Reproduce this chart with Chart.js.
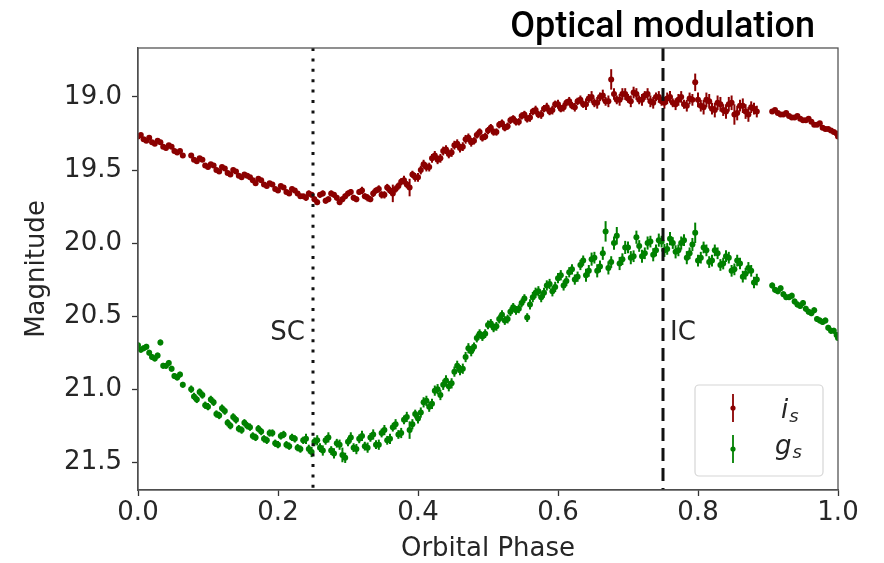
<!DOCTYPE html>
<html>
<head>
<meta charset="utf-8">
<script src="https://cdn.jsdelivr.net/npm/chart.js@4"></script>
<style>
  html, body { margin: 0; padding: 0; background: #fff; }
  canvas { display: block; }
</style>
</head>
<body>
<canvas id="lc" width="884" height="563"></canvas>
<script>
// orbital phase of each exposure, first night (shared by both bands)
const phase = [
  0.000,0.008,0.016,0.024,0.032,0.040,0.048,0.056,0.064,
  0.076,0.084,0.092,0.100,0.108,0.116,0.124,0.132,0.140,0.148,0.156,
  0.164,0.172,0.180,0.188,0.196,0.204,0.212,0.220,0.228,0.236,
  0.244,0.252,0.260,0.268,0.276,0.284,0.292,0.300,0.308,0.316,
  0.324,0.332,0.340,0.348,0.356,0.364,0.372,0.380,0.388,0.396,
  0.404,0.412,0.420,0.428,0.436,0.444,0.452,0.460,0.468,0.476,
  0.484,0.492,0.500,0.508,0.516,0.524,0.532,0.540,0.548,0.556,
  0.564,0.572,0.580,0.588,0.596,0.604,0.612,0.620,0.628,0.636,
  0.644,0.652,0.660,0.668,0.676,0.684,0.692,0.700,0.708,0.716,
  0.724,0.732,0.740,0.748,0.756,0.764,0.772,0.780,0.788,0.796,
  0.804,0.812,0.820,0.828,0.836,0.844,0.852,0.860,0.868,0.876,
  0.884,
  0.906,0.914,0.922,0.930,0.938,0.946,0.954,0.962,0.970,0.978,0.986,0.994,1.000
];
// second night
const phase2 = [
  0.004,0.012,0.020,0.028,0.036,0.044,0.052,0.060,
  0.080,0.088,0.096,0.104,0.112,0.120,0.128,0.136,0.144,0.152,
  0.160,0.168,0.176,0.184,0.192,0.200,0.208,0.216,0.224,0.232,
  0.240,0.248,0.256,0.264,0.272,0.280,0.288,0.296,0.304,0.312,
  0.320,0.328,0.336,0.344,0.352,0.360,0.368,0.376,0.384,0.392,
  0.400,0.408,0.416,0.424,0.432,0.440,0.448,0.456,0.464,0.472,
  0.480,0.488,0.496,0.504,0.512,0.520,0.528,0.536,0.544,0.552,
  0.560,0.568,0.576,0.584,0.592,0.600,0.608,0.616,0.624,0.632,
  0.640,0.648,0.656,0.664,0.672,0.680,0.688,0.696,0.704,0.712,
  0.720,0.728,0.736,0.744,0.752,0.760,0.768,0.776,0.784,0.792,
  0.800,0.808,0.816,0.824,0.832,0.840,0.848,0.856,0.864,0.872,
  0.880,
  0.910,0.918,0.926,0.934,0.942,0.950,0.958,0.966,0.974,0.982,0.990,0.998
];

// i_s band
const magI = [
  19.27,19.29,19.28,19.32,19.31,19.35,19.34,19.38,19.40,
  19.40,19.44,19.43,19.48,19.47,19.51,19.49,19.53,19.51,19.55,19.54,
  19.57,19.56,19.60,19.59,19.63,19.61,19.65,19.63,19.66,19.68,
  19.66,19.70,19.67,19.71,19.66,19.69,19.70,19.66,19.69,19.65,
  19.68,19.70,19.64,19.67,19.62,19.66,19.61,19.57,19.62,19.55,
  19.50,19.48,19.42,19.43,19.37,19.39,19.33,19.35,19.29,19.31,
  19.26,19.28,19.23,19.24,19.19,19.21,19.16,19.17,19.13,19.15,
  19.10,19.12,19.08,19.10,19.05,19.08,19.04,19.06,19.03,19.05,
  19.01,19.04,19.00,19.03,18.88,19.02,18.98,19.01,18.97,19.02,
  18.99,19.03,19.00,19.03,19.01,19.04,19.02,19.05,19.01,18.90,
  19.06,19.02,19.08,19.04,19.09,19.05,19.12,19.06,19.10,19.07,
  19.10,
  19.10,19.11,19.12,19.13,19.14,19.15,19.16,19.17,19.19,19.21,19.22,19.24,19.27
];
const errI = [
  0.015,0.015,0.015,0.015,0.015,0.015,0.015,0.015,0.015,
  0.015,0.015,0.015,0.015,0.015,0.015,0.015,0.015,0.015,0.015,0.015,
  0.015,0.015,0.015,0.015,0.015,0.015,0.015,0.015,0.015,0.015,
  0.02,0.02,0.02,0.02,0.02,0.02,0.02,0.02,0.02,0.02,
  0.02,0.02,0.02,0.025,0.025,0.06,0.025,0.03,0.06,0.03,
  0.03,0.03,0.03,0.03,0.03,0.03,0.03,0.03,0.03,0.03,
  0.025,0.025,0.025,0.025,0.025,0.025,0.025,0.025,0.025,0.025,
  0.025,0.025,0.025,0.025,0.025,0.025,0.025,0.025,0.025,0.025,
  0.03,0.03,0.03,0.03,0.07,0.03,0.04,0.03,0.04,0.03,
  0.03,0.04,0.03,0.03,0.04,0.03,0.04,0.03,0.04,0.06,
  0.04,0.05,0.04,0.05,0.04,0.05,0.07,0.04,0.05,0.04,
  0.04,
  0.015,0.015,0.015,0.015,0.015,0.015,0.015,0.015,0.015,0.015,0.015,0.015,0.015
];
const magI2 = [
  19.26,19.30,19.31,19.30,19.34,19.33,19.37,19.37,
  19.43,19.42,19.47,19.46,19.50,19.48,19.52,19.50,19.54,19.53,
  19.55,19.59,19.57,19.61,19.60,19.64,19.62,19.66,19.64,19.68,
  19.69,19.67,19.72,19.66,19.70,19.67,19.72,19.68,19.65,19.70,
  19.64,19.69,19.66,19.63,19.67,19.64,19.63,19.58,19.60,19.53,
  19.55,19.46,19.48,19.40,19.42,19.36,19.38,19.32,19.34,19.28,
  19.30,19.24,19.27,19.21,19.24,19.18,19.20,19.15,19.17,19.12,
  19.14,19.09,19.12,19.07,19.09,19.05,19.07,19.03,19.07,19.02,
  19.05,19.00,19.04,18.99,19.03,18.98,19.02,18.98,19.03,18.98,
  19.02,18.98,19.04,19.00,19.04,19.00,19.05,19.00,19.06,19.02,
  19.02,19.07,19.03,19.09,19.05,19.10,19.04,19.11,19.06,19.12,
  19.08,
  19.09,19.12,19.11,19.14,19.13,19.16,19.15,19.19,19.18,19.22,19.23,19.25
];
const errI2 = [
  0.015,0.015,0.015,0.015,0.015,0.015,0.015,0.015,
  0.015,0.015,0.015,0.015,0.015,0.015,0.015,0.015,0.015,0.015,
  0.015,0.015,0.015,0.015,0.015,0.015,0.015,0.015,0.015,0.015,
  0.02,0.02,0.02,0.02,0.02,0.02,0.02,0.02,0.02,0.02,
  0.025,0.025,0.025,0.025,0.025,0.025,0.025,0.025,0.025,0.025,
  0.03,0.03,0.03,0.03,0.03,0.03,0.03,0.03,0.03,0.03,
  0.025,0.025,0.025,0.025,0.025,0.025,0.025,0.025,0.025,0.025,
  0.03,0.03,0.03,0.03,0.03,0.03,0.03,0.03,0.03,0.03,
  0.04,0.04,0.04,0.04,0.04,0.04,0.04,0.04,0.04,0.04,
  0.04,0.04,0.04,0.04,0.04,0.04,0.04,0.04,0.04,0.04,
  0.05,0.05,0.05,0.05,0.05,0.05,0.05,0.05,0.05,0.05,
  0.04,
  0.015,0.015,0.015,0.015,0.015,0.015,0.015,0.015,0.015,0.015,0.015,0.015
];

// g_s band
const magG = [
  20.70,20.72,20.75,20.79,20.68,20.84,20.86,20.92,20.97,
  21.00,21.07,21.04,21.12,21.09,21.18,21.15,21.25,21.21,21.28,21.25,
  21.32,21.27,21.34,21.30,21.37,21.32,21.38,21.33,21.40,21.35,
  21.41,21.36,21.40,21.35,21.42,21.37,21.45,21.36,21.40,21.34,
  21.39,21.33,21.38,21.30,21.35,21.26,21.31,21.21,21.28,21.17,
  21.16,21.08,21.10,21.00,20.97,20.98,20.88,20.87,20.78,20.74,
  20.65,20.64,20.56,20.58,20.52,20.53,20.47,20.46,20.41,20.51,
  20.37,20.33,20.34,20.28,20.30,20.22,20.26,20.18,20.23,20.12,
  20.19,20.10,20.16,19.92,20.13,19.95,20.11,20.03,20.09,20.02,
  20.07,19.99,20.05,19.99,20.04,20.00,20.05,19.98,20.07,19.93,
  20.10,20.05,20.12,20.07,20.14,20.10,20.18,20.14,20.21,20.19,
  20.25,
  20.29,20.33,20.35,20.37,20.40,20.43,20.45,20.48,20.52,20.54,20.58,20.60,20.65
];
const errG = [
  0.02,0.02,0.02,0.02,0.02,0.02,0.02,0.02,0.02,
  0.025,0.025,0.025,0.025,0.025,0.025,0.025,0.025,0.025,0.025,0.025,
  0.025,0.025,0.025,0.025,0.025,0.025,0.025,0.025,0.025,0.025,
  0.03,0.03,0.03,0.03,0.03,0.03,0.05,0.03,0.03,0.03,
  0.03,0.03,0.03,0.03,0.03,0.03,0.03,0.03,0.06,0.03,
  0.035,0.035,0.035,0.035,0.035,0.035,0.035,0.035,0.035,0.035,
  0.03,0.03,0.03,0.03,0.03,0.03,0.03,0.03,0.03,0.03,
  0.035,0.035,0.035,0.035,0.035,0.035,0.035,0.035,0.035,0.035,
  0.04,0.04,0.04,0.07,0.04,0.06,0.04,0.04,0.04,0.04,
  0.04,0.04,0.04,0.04,0.04,0.04,0.04,0.04,0.04,0.07,
  0.04,0.04,0.04,0.04,0.04,0.04,0.04,0.04,0.04,0.04,
  0.04,
  0.02,0.02,0.02,0.02,0.02,0.02,0.02,0.02,0.02,0.02,0.02,0.02,0.02
];
const magG2 = [
  20.73,20.71,20.78,20.77,20.84,20.82,20.91,20.90,
  21.05,21.02,21.11,21.07,21.17,21.13,21.23,21.19,21.27,21.23,
  21.26,21.33,21.29,21.35,21.30,21.38,21.31,21.39,21.34,21.41,
  21.34,21.43,21.35,21.42,21.33,21.44,21.38,21.47,21.33,21.41,
  21.32,21.40,21.31,21.38,21.28,21.34,21.24,21.30,21.19,21.24,
  21.20,21.09,21.12,21.01,21.04,20.94,20.96,20.84,20.86,20.72,
  20.71,20.62,20.62,20.55,20.57,20.49,20.52,20.44,20.45,20.38,
  20.42,20.34,20.37,20.29,20.33,20.24,20.29,20.20,20.25,20.15,
  20.22,20.11,20.19,20.07,20.17,20.00,20.14,20.03,20.10,19.96,
  20.09,20.00,20.08,19.98,20.05,19.97,20.06,20.00,20.10,20.01,
  20.12,20.03,20.13,20.05,20.15,20.09,20.19,20.12,20.23,20.17,
  20.27,
  20.32,20.31,20.37,20.36,20.42,20.41,20.47,20.46,20.53,20.53,20.60,20.63
];
const errG2 = [
  0.02,0.02,0.02,0.02,0.02,0.02,0.02,0.02,
  0.025,0.025,0.025,0.025,0.025,0.025,0.025,0.025,0.025,0.025,
  0.025,0.025,0.025,0.025,0.025,0.025,0.025,0.025,0.025,0.025,
  0.035,0.035,0.035,0.035,0.035,0.035,0.035,0.035,0.035,0.035,
  0.035,0.035,0.035,0.035,0.035,0.035,0.035,0.035,0.035,0.035,
  0.035,0.035,0.035,0.035,0.035,0.035,0.035,0.035,0.035,0.035,
  0.03,0.03,0.03,0.03,0.03,0.03,0.03,0.03,0.03,0.03,
  0.035,0.035,0.035,0.035,0.035,0.035,0.035,0.035,0.035,0.035,
  0.045,0.045,0.045,0.045,0.045,0.045,0.045,0.045,0.045,0.045,
  0.045,0.045,0.045,0.045,0.045,0.045,0.045,0.045,0.045,0.045,
  0.04,0.04,0.04,0.04,0.04,0.04,0.04,0.04,0.04,0.04,
  0.04,
  0.02,0.02,0.02,0.02,0.02,0.02,0.02,0.02,0.02,0.02,0.02,0.02
];

const xTicks = [0.0, 0.2, 0.4, 0.6, 0.8, 1.0];
const yTicks = [19.0, 19.5, 20.0, 20.5, 21.0, 21.5];
const conjunctions = [
  { label: 'SC', phase: 0.25, dash: [3, 7.4], side: 'left' },
  { label: 'IC', phase: 0.75, dash: [13, 7], side: 'right' }
];
const labelMag = 20.62;
const titleText = 'Optical modulation';

const RED = '#8b0000';
const GREEN = '#008000';
const TXT = '#262626';
const FONT = 'DejaVu Sans';

function points(ph, mags, errs) {
  return ph.map((p, k) => ({ x: p, y: mags[k], e: errs[k] }));
}

// vertical error bars, drawn under the markers
const errorBars = {
  id: 'errorBars',
  beforeDatasetsDraw(chart) {
    const { ctx, chartArea: a, scales: { x, y } } = chart;
    ctx.save();
    ctx.beginPath();
    ctx.rect(a.left, a.top, a.right - a.left, a.bottom - a.top);
    ctx.clip();
    chart.data.datasets.forEach(ds => {
      ctx.strokeStyle = ds.borderColor;
      ctx.lineWidth = 2;
      ds.data.forEach(p => {
        const px = x.getPixelForValue(p.x);
        ctx.beginPath();
        ctx.moveTo(px, y.getPixelForValue(p.y - p.e));
        ctx.lineTo(px, y.getPixelForValue(p.y + p.e));
        ctx.stroke();
      });
    });
    ctx.restore();
  }
};

// SC / IC lines, frame, title and legend
const overlay = {
  id: 'overlay',
  afterDatasetsDraw(chart) {
    const { ctx, chartArea: a, scales: { x, y } } = chart;
    ctx.save();
    ctx.strokeStyle = '#111';
    ctx.lineWidth = 3;
    conjunctions.forEach(c => {
      const px = x.getPixelForValue(c.phase);
      ctx.setLineDash(c.dash);
      ctx.beginPath();
      ctx.moveTo(px, a.top);
      ctx.lineTo(px, a.bottom);
      ctx.stroke();
      ctx.setLineDash([]);
      ctx.font = '26px "' + FONT + '"';
      ctx.fillStyle = TXT;
      ctx.textBaseline = 'middle';
      ctx.textAlign = c.side === 'left' ? 'right' : 'left';
      ctx.fillText(c.label, c.side === 'left' ? px - 8 : px + 7, y.getPixelForValue(labelMag));
    });
    ctx.restore();
  },
  afterDraw(chart) {
    const { ctx, chartArea: a } = chart;
    ctx.save();
    // frame
    ctx.strokeStyle = '#555';
    ctx.lineWidth = 1.3;
    ctx.strokeRect(a.left, a.top, a.right - a.left, a.bottom - a.top);

    // title
    ctx.font = '500 36px Roboto';
    ctx.fillStyle = '#000';
    ctx.textAlign = 'right';
    ctx.textBaseline = 'alphabetic';
    ctx.fillText(titleText, a.right - 23, a.top - 11);

    // legend
    const bx = a.right - 143, by = a.bottom - 105, bw = 128, bh = 91, r = 4;
    ctx.beginPath();
    ctx.moveTo(bx + r, by);
    ctx.arcTo(bx + bw, by, bx + bw, by + bh, r);
    ctx.arcTo(bx + bw, by + bh, bx, by + bh, r);
    ctx.arcTo(bx, by + bh, bx, by, r);
    ctx.arcTo(bx, by, bx + bw, by, r);
    ctx.closePath();
    ctx.fillStyle = 'rgba(255,255,255,0.8)';
    ctx.fill();
    ctx.strokeStyle = '#d6d6d6';
    ctx.lineWidth = 1.2;
    ctx.stroke();

    const rows = [
      { color: RED, main: 'i', cy: by + 23, base: 10 },
      { color: GREEN, main: 'g', cy: by + 64, base: 5 }
    ];
    rows.forEach(row => {
      const mx = bx + 38;
      ctx.strokeStyle = row.color;
      ctx.lineWidth = 1.8;
      ctx.beginPath();
      ctx.moveTo(mx, row.cy - 14);
      ctx.lineTo(mx, row.cy + 14);
      ctx.stroke();
      ctx.fillStyle = row.color;
      ctx.beginPath();
      ctx.arc(mx, row.cy, 2.6, 0, Math.PI * 2);
      ctx.fill();

      ctx.fillStyle = TXT;
      ctx.textAlign = 'left';
      ctx.textBaseline = 'alphabetic';
      ctx.font = 'italic 26px "' + FONT + '"';
      const tx = bx + (row.main === 'i' ? 86 : 80);
      ctx.fillText(row.main, tx, row.cy + row.base);
      const w = ctx.measureText(row.main).width;
      ctx.font = 'italic 18px "' + FONT + '"';
      ctx.fillText('s', tx + w + 1, row.cy + row.base + 4);
    });
    ctx.restore();
  }
};

const ctx = document.getElementById('lc').getContext('2d');
new Chart(ctx, {
  type: 'scatter',
  data: {
    datasets: [
      {
        label: 'i_s',
        data: points(phase, magI, errI).concat(points(phase2, magI2, errI2)),
        backgroundColor: RED,
        borderColor: RED,
        borderWidth: 0,
        pointRadius: 3
      },
      {
        label: 'g_s',
        data: points(phase, magG, errG).concat(points(phase2, magG2, errG2)),
        backgroundColor: GREEN,
        borderColor: GREEN,
        borderWidth: 0,
        pointRadius: 3
      }
    ]
  },
  options: {
    responsive: false,
    animation: false,
    devicePixelRatio: 1,
    layout: { padding: { top: 48, right: 46, left: 0, bottom: 0 } },
    plugins: { legend: { display: false }, tooltip: { enabled: false } },
    scales: {
      x: {
        type: 'linear',
        min: 0,
        max: 1,
        afterBuildTicks: s => { s.ticks = xTicks.map(v => ({ value: v })); },
        afterFit: s => { s.height = 73; },
        ticks: {
          color: TXT,
          font: { family: FONT, size: 26 },
          padding: 2,
          maxRotation: 0,
          callback: v => v.toFixed(1)
        },
        grid: { drawOnChartArea: false, drawTicks: true, tickLength: 6, tickColor: '#333', tickWidth: 1.3 },
        border: { color: '#444', width: 1.3 },
        title: {
          display: true,
          text: 'Orbital Phase',
          color: TXT,
          font: { family: FONT, size: 26 },
          padding: { top: 0, bottom: -2 }
        }
      },
      y: {
        type: 'linear',
        reverse: true,
        min: 18.665,
        max: 21.69,
        afterBuildTicks: s => { s.ticks = yTicks.map(v => ({ value: v })); },
        afterFit: s => { s.width = 138; },
        ticks: {
          color: TXT,
          font: { family: FONT, size: 26 },
          padding: 10,
          callback: v => v.toFixed(1)
        },
        grid: { drawOnChartArea: false, drawTicks: true, tickLength: 6, tickColor: '#333', tickWidth: 1.3 },
        border: { color: '#444', width: 1.3 },
        title: {
          display: true,
          text: 'Magnitude',
          color: TXT,
          font: { family: FONT, size: 26 },
          padding: { top: 22, bottom: 0 }
        }
      }
    }
  },
  plugins: [errorBars, overlay]
});
</script>
</body>
</html>
